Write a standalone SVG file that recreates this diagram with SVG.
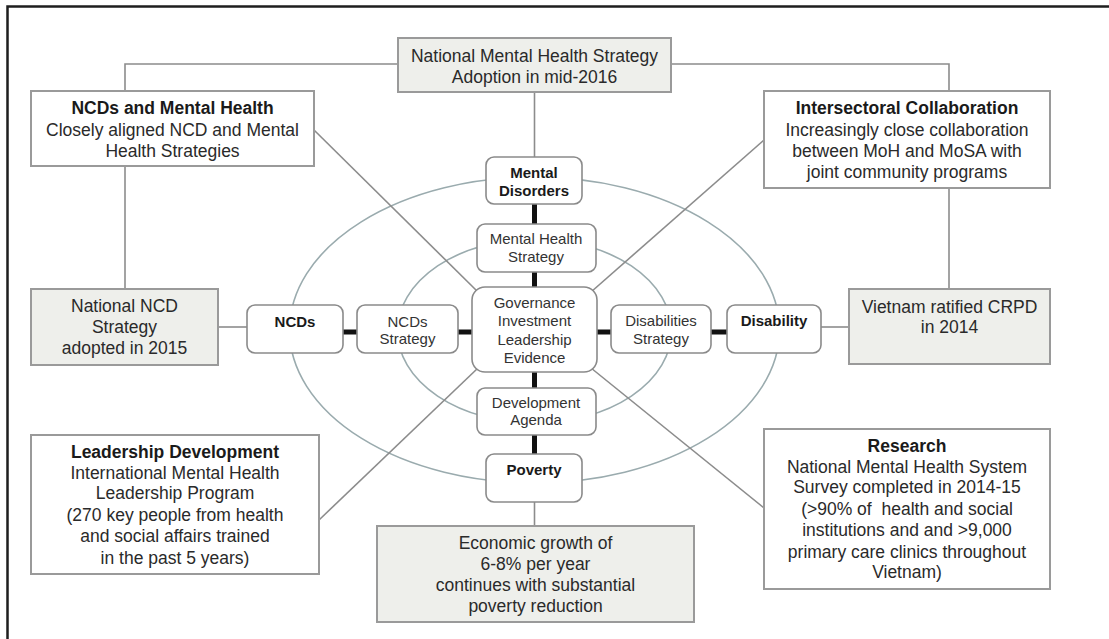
<svg xmlns="http://www.w3.org/2000/svg" width="1109" height="639" viewBox="0 0 1109 639">
<style>
text{font-family:"Liberation Sans",Arial,sans-serif;text-anchor:middle;fill:#2a2a2a}
.big{font-size:17.5px}
.bb{font-size:17.5px;font-weight:bold;fill:#1a1a1a}
.sm{font-size:15px;fill:#333}
.sb{font-size:15px;font-weight:bold;fill:#1a1a1a}
.box{fill:#fff;stroke:#9a9a9a;stroke-width:2}
.gbox{fill:#eeefeb;stroke:#9a9a9a;stroke-width:2}
.node{fill:#fff;stroke:#8a8a8a;stroke-width:1.6}
.ring{fill:none;stroke:#9aabae;stroke-width:1.6}
.ln{fill:none;stroke:#8c8c8c;stroke-width:1.6}
.tk{fill:none;stroke:#111;stroke-width:5}
</style>
<rect width="1109" height="639" fill="#fff"/>
<path d="M7.5 639 V6.5 H1109" fill="none" stroke="#1e1e1e" stroke-width="2.5"/>
<g id="rings">
<ellipse class="ring" cx="534.5" cy="330" rx="245" ry="153"/>
<ellipse class="ring" cx="534.5" cy="331" rx="137" ry="92"/>
</g>
<g id="connectors">
<path class="ln" d="M398 64 H125 V91"/>
<path class="ln" d="M671 64 H949 V91"/>
<path class="ln" d="M125 166 V289"/>
<path class="ln" d="M949 188 V289"/>
<path class="ln" d="M534.5 92 V157"/>
<path class="ln" d="M218 327 H247"/>
<path class="ln" d="M821 327 H849"/>
<path class="ln" d="M534.5 502 V526"/>
<path class="ln" d="M314 130 L478 292"/>
<path class="ln" d="M764 140 L591 292"/>
<path class="ln" d="M319 520 L478 368"/>
<path class="ln" d="M764 508 L591 368"/>
<path class="tk" d="M534.5 204 V224 M534.5 272 V287 M534.5 372 V388 M534.5 435 V454 M343 332 H357 M458 332 H472 M597 332 H611 M711 332 H727"/>
</g>
<g id="top">
<rect class="gbox" x="398" y="38" width="273" height="54"/>
<text class="big" x="534.5" y="62">National Mental Health Strategy</text>
<text class="big" x="534.5" y="83">Adoption in mid-2016</text>
</g>
<g id="ncdmh">
<rect class="box" x="31" y="91" width="283" height="75"/>
<text class="bb" x="172.5" y="114">NCDs and Mental Health</text>
<text class="big" x="172.5" y="136">Closely aligned NCD and Mental</text>
<text class="big" x="172.5" y="157">Health Strategies</text>
</g>
<g id="intersectoral">
<rect class="box" x="764" y="91" width="286" height="97"/>
<text class="bb" x="907" y="114">Intersectoral Collaboration</text>
<text class="big" x="907" y="136">Increasingly close collaboration</text>
<text class="big" x="907" y="157">between MoH and MoSA with</text>
<text class="big" x="907" y="178">joint community programs</text>
</g>
<g id="natncd">
<rect class="gbox" x="31" y="289" width="187" height="76"/>
<text class="big" x="124.5" y="312">National NCD</text>
<text class="big" x="124.5" y="333">Strategy</text>
<text class="big" x="124.5" y="354">adopted in 2015</text>
</g>
<g id="vietnam">
<rect class="gbox" x="849" y="289" width="201" height="75"/>
<text class="big" x="949.5" y="313">Vietnam ratified CRPD</text>
<text class="big" x="949.5" y="333">in 2014</text>
</g>
<g id="leadership">
<rect class="box" x="31" y="435" width="288" height="139"/>
<text class="bb" x="175" y="458">Leadership Development</text>
<text class="big" x="175" y="479">International Mental Health</text>
<text class="big" x="175" y="499">Leadership Program</text>
<text class="big" x="175" y="521">(270 key people from health</text>
<text class="big" x="175" y="542">and social affairs trained</text>
<text class="big" x="175" y="564">in the past 5 years)</text>
</g>
<g id="economic">
<rect class="gbox" x="377" y="526" width="317" height="96"/>
<text class="big" x="535.5" y="549">Economic growth of</text>
<text class="big" x="535.5" y="570">6-8% per year</text>
<text class="big" x="535.5" y="591">continues with substantial</text>
<text class="big" x="535.5" y="612">poverty reduction</text>
</g>
<g id="research">
<rect class="box" x="764" y="429" width="286" height="160"/>
<text class="bb" x="907" y="452">Research</text>
<text class="big" x="907" y="473">National Mental Health System</text>
<text class="big" x="907" y="493">Survey completed in 2014-15</text>
<text class="big" x="907" y="515" xml:space="preserve">(&gt;90% of  health and social</text>
<text class="big" x="907" y="536">institutions and and &gt;9,000</text>
<text class="big" x="907" y="558">primary care clinics throughout</text>
<text class="big" x="907" y="578">Vietnam)</text>
</g>
<g id="mentaldisorders">
<rect class="node" x="486" y="157" width="96" height="47" rx="8"/>
<text class="sb" x="534" y="178">Mental</text>
<text class="sb" x="534" y="196">Disorders</text>
</g>
<g id="mhstrategy">
<rect class="node" x="477" y="224" width="119" height="48" rx="8"/>
<text class="sm" x="536" y="244">Mental Health</text>
<text class="sm" x="536" y="262">Strategy</text>
</g>
<g id="governance">
<rect class="node" x="472" y="287" width="125" height="85" rx="13"/>
<text class="sm" x="534.5" y="308">Governance</text>
<text class="sm" x="534.5" y="326">Investment</text>
<text class="sm" x="534.5" y="345">Leadership</text>
<text class="sm" x="534.5" y="363">Evidence</text>
</g>
<g id="devagenda">
<rect class="node" x="477" y="388" width="119" height="47" rx="8"/>
<text class="sm" x="536" y="408">Development</text>
<text class="sm" x="536" y="425">Agenda</text>
</g>
<g id="poverty">
<rect class="node" x="486" y="454" width="96" height="48" rx="8"/>
<text class="sb" x="534" y="475">Poverty</text>
</g>
<g id="ncds">
<rect class="node" x="247" y="305" width="96" height="48" rx="8"/>
<text class="sb" x="295" y="327">NCDs</text>
</g>
<g id="ncdsstrategy">
<rect class="node" x="357" y="305" width="101" height="48" rx="8"/>
<text class="sm" x="407.5" y="327">NCDs</text>
<text class="sm" x="407.5" y="344">Strategy</text>
</g>
<g id="disstrategy">
<rect class="node" x="611" y="305" width="100" height="48" rx="8"/>
<text class="sm" x="661" y="326">Disabilities</text>
<text class="sm" x="661" y="344">Strategy</text>
</g>
<g id="disability">
<rect class="node" x="727" y="305" width="94" height="48" rx="8"/>
<text class="sb" x="774" y="326">Disability</text>
</g>
</svg>
